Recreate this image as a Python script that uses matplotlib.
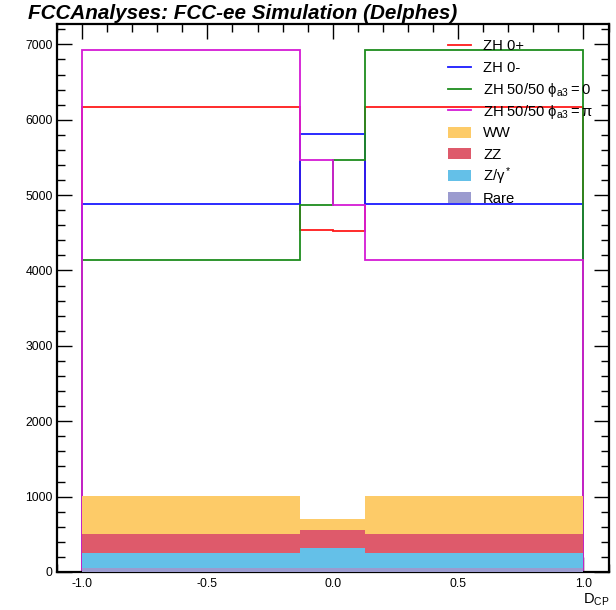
import matplotlib
matplotlib.use("Agg")
import matplotlib.pyplot as plt
import numpy as np
from matplotlib.patches import Rectangle
from matplotlib.lines import Line2D
from matplotlib.ticker import MultipleLocator

plt.rcParams['font.family'] = ['Liberation Sans', 'DejaVu Sans']
plt.rcParams['mathtext.fontset'] = 'custom'
plt.rcParams['mathtext.rm'] = 'Liberation Sans'
plt.rcParams['mathtext.it'] = 'Liberation Sans'
plt.rcParams['axes.unicode_minus'] = False

# ---- data ----
bin_edges = [-1.0, -0.13, 0.0, 0.13, 1.0]

sig_labels = ["ZH 0+", "ZH 0-", r"ZH 50/50 $\phi_{\mathrm{a3}} = 0$", r"ZH 50/50 $\phi_{\mathrm{a3}} = \pi$"]
zh_0plus = [6171, 4534, 4525, 6165]
zh_0minus = [4887, 5817, 5817, 4887]
zh_mix0 = [4143, 4874, 5463, 6924]
zh_mixpi = [6924, 5463, 4874, 4140]
sig_colors = ["#ff1a1a", "#1a1aff", "#1e8c1e", "#d41ad4"]

bkg_labels = ["WW", "ZZ", r"Z/$\gamma^*$", "Rare"]
bkg_ww = [512, 146, 146, 512]
bkg_zz = [242, 244, 244, 242]
bkg_zgamma = [200, 261, 261, 200]
bkg_rare = [58, 58, 58, 58]
bkg_colors = ["#fdcb68", "#de5a6b", "#64c0e8", "#9b9bcf"]

x_ticks = [-1.0, -0.5, 0.0, 0.5, 1.0]
x_ticklabels = ["-1.0", "-0.5", "0.0", "0.5", "1.0"]
y_ticks = [0, 1000, 2000, 3000, 4000, 5000, 6000, 7000]

W, H = 616, 610

# ---- figure ----
fig = plt.figure(figsize=(W/100, H/100), dpi=100)
ax = fig.add_axes([57/W, 38/H, (608.5-57)/W, (572-24)/H])

edges = np.array(bin_edges)
signals = [zh_0plus, zh_0minus, zh_mix0, zh_mixpi]
for vals, col in zip(signals, sig_colors):
    ax.stairs(vals, edges, baseline=0, fill=False, color=col, linewidth=1.3, zorder=2)

# stacked backgrounds (bottom-up: Rare, Z/gamma, ZZ, WW)
stack_order = [bkg_rare, bkg_zgamma, bkg_zz, bkg_ww]
stack_colors = [bkg_colors[3], bkg_colors[2], bkg_colors[1], bkg_colors[0]]
bottom = np.zeros(len(bkg_rare))
for vals, col in zip(stack_order, stack_colors):
    top = bottom + np.array(vals)
    ax.stairs(top, edges, baseline=bottom, fill=True, color=col, linewidth=0, zorder=3)
    bottom = top

ymax = max(max(s) for s in signals) * 1.05
ax.set_xlim(-1.1, 1.1)
ax.set_ylim(0, ymax)
ax.set_xticks(x_ticks)
ax.set_xticklabels(x_ticklabels)
ax.set_yticks(y_ticks)
ax.xaxis.set_minor_locator(MultipleLocator(0.1))
ax.yaxis.set_minor_locator(MultipleLocator(200))
ax.tick_params(which='both', direction='in', top=True, right=True, labelsize=8.8, width=1.0)
ax.tick_params(which='major', length=11)
ax.tick_params(which='minor', length=5.5)
ax.tick_params(axis='x', pad=4.5)
ax.tick_params(axis='y', pad=3)
for sp in ax.spines.values():
    sp.set_linewidth(1.6)

# ---- legend (manual, no frame) ----
leg_labels = sig_labels + bkg_labels
row0, dy = 45.0, 21.75
x0, x1, xt = 448, 471, 483
for i, lab in enumerate(leg_labels):
    yc = row0 + i * dy
    fy = 1 - yc / H
    if i < 4:
        fig.add_artist(Line2D([x0/W, x1/W], [fy, fy], color=sig_colors[i], linewidth=1.3,
                              transform=fig.transFigure, zorder=6))
    else:
        fig.add_artist(Rectangle((x0/W, 1 - (yc + 5.5)/H), (x1 - x0)/W, 11/H,
                                 facecolor=bkg_colors[i - 4], edgecolor='none',
                                 transform=fig.transFigure, zorder=6))
    fig.text(xt/W, 1 - (yc + 5.3)/H, lab, fontsize=10.6, ha='left', va='baseline', zorder=6)

fig.text(28/W, 1 - 19/H, "FCCAnalyses: FCC-ee Simulation (Delphes)",
         fontsize=14.9, fontweight='bold', fontstyle='italic', ha='left', va='baseline')
fig.text(609/W, 1 - 604/H, r"D$_{\mathrm{CP}}$", fontsize=10.5, ha='right', va='baseline')

fig.savefig("out.png", dpi=100)
